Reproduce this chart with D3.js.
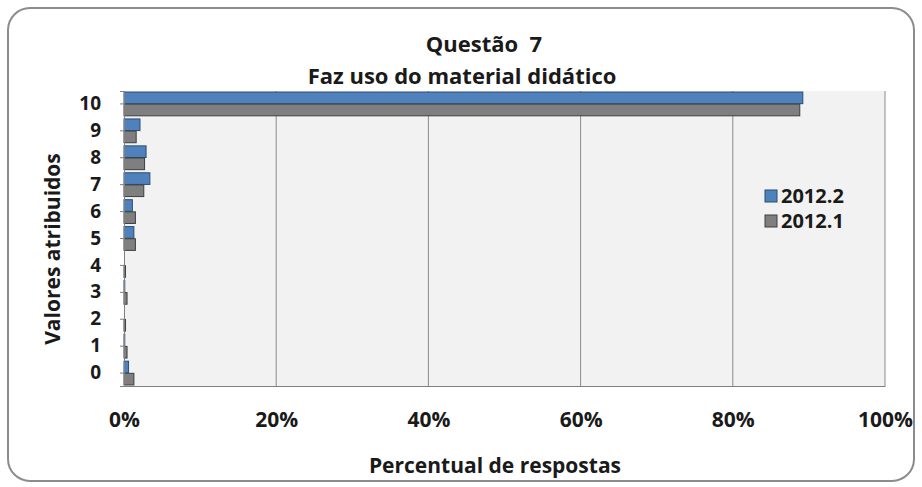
<!DOCTYPE html>
<html lang="pt">
<head>
<meta charset="UTF-8">
<title>Questão 7</title>
<script src="https://d3js.org/d3.v7.min.js"></script>
<style>
  body { margin: 0; background: #fff; }
  text { font-family: "Open Sans", Lato, sans-serif; font-weight: bold; fill: #1a1a1a; white-space: pre; }
</style>
</head>
<body>
<div id="chart"></div>
<script>
const categories = ['10', '9', '8', '7', '6', '5', '4', '3', '2', '1', '0'];
const series = ['2012.2', '2012.1'];
const values2012_2 = [89.2, 2.1, 2.9, 3.4, 1.1, 1.3, 0.0, 0.1, 0.0, 0.1, 0.6];
const values2012_1 = [88.8, 1.6, 2.7, 2.6, 1.5, 1.5, 0.2, 0.4, 0.2, 0.4, 1.3];
const xTicks = [0, 20, 40, 60, 80, 100];
const colors = ['#4f81bd', '#7f7f7f'];
const strokes = ['#2c4d75', '#3f3f3f'];

const W = 922, H = 487;
const margin = { top: 91, right: 37, bottom: 101, left: 124 };
const iw = W - margin.left - margin.right;
const ih = H - margin.top - margin.bottom;

const svg = d3.select('#chart').append('svg')
  .attr('width', W).attr('height', H);

// outer rounded frame
svg.append('rect')
  .attr('x', 8).attr('y', 8).attr('width', W - 16).attr('height', H - 14)
  .attr('rx', 22).attr('fill', '#fff').attr('stroke', '#8c8c8c').attr('stroke-width', 2);

svg.append('text').attr('x', 484).attr('y', 52).attr('text-anchor', 'middle')
  .style('font-size', '22px').text('Questão  7');
svg.append('text').attr('x', 462).attr('y', 84).attr('text-anchor', 'middle')
  .style('font-size', '22px').text('Faz uso do material didático');

const g = svg.append('g').attr('transform', `translate(${margin.left},${margin.top})`);

const x = d3.scaleLinear().domain([0, 100]).range([0, iw]);
const y = d3.scaleBand().domain(categories).range([0, ih]).paddingInner(0.08).paddingOuter(0.02);
const ys = d3.scaleBand().domain(series).range([0, y.bandwidth()]).padding(0.04);

g.append('rect').attr('width', iw).attr('height', ih).attr('fill', '#f2f2f2');

// gridlines
g.selectAll('.grid').data(xTicks.slice(1)).enter().append('line')
  .attr('x1', d => x(d)).attr('x2', d => x(d))
  .attr('y1', 0).attr('y2', ih)
  .attr('stroke', '#8a8a8a').attr('stroke-width', 1);

const data = categories.map((c, i) => ({ cat: c, vals: [values2012_2[i], values2012_1[i]] }));

const groups = g.selectAll('.cat').data(data).enter().append('g')
  .attr('transform', d => `translate(0,${y(d.cat)})`);

groups.selectAll('rect').data(d => d.vals.map((v, k) => ({ v, s: series[k], k })))
  .enter().append('rect')
  .attr('x', 0)
  .attr('y', d => ys(d.s))
  .attr('height', ys.bandwidth())
  .attr('width', d => x(d.v))
  .attr('fill', d => colors[d.k])
  .attr('stroke', d => d.v > 0 ? strokes[d.k] : 'none')
  .attr('stroke-width', 1);

// axes
const xAxis = g.append('g').attr('transform', `translate(0,${ih})`)
  .call(d3.axisBottom(x).tickValues(xTicks).tickFormat(d => d + '%').tickSize(0).tickPadding(26));
xAxis.select('.domain').attr('stroke', '#7f7f7f');
xAxis.selectAll('text').style('font-size', '21px');

const yAxis = g.append('g')
  .call(d3.axisLeft(y).tickSize(4).tickPadding(19));
yAxis.select('.domain').attr('stroke', '#7f7f7f');
yAxis.selectAll('line').attr('stroke', '#7f7f7f');
yAxis.selectAll('text').style('font-size', '19px');

svg.append('text').attr('x', 495).attr('y', 473).attr('text-anchor', 'middle')
  .style('font-size', '21px').text('Percentual de respostas');
svg.append('text').attr('transform', 'translate(60,249) rotate(-90)').attr('text-anchor', 'middle')
  .style('font-size', '21px').text('Valores atribuidos');

// legend
const leg = svg.append('g').attr('transform', 'translate(765,190)');
series.forEach((s, i) => {
  leg.append('rect').attr('x', 0).attr('y', i * 25).attr('width', 12).attr('height', 12)
    .attr('fill', colors[i]).attr('stroke', strokes[i]);
  leg.append('text').attr('x', 16).attr('y', i * 25 + 13).style('font-size', '20px').text(s);
});
</script>
</body>
</html>
